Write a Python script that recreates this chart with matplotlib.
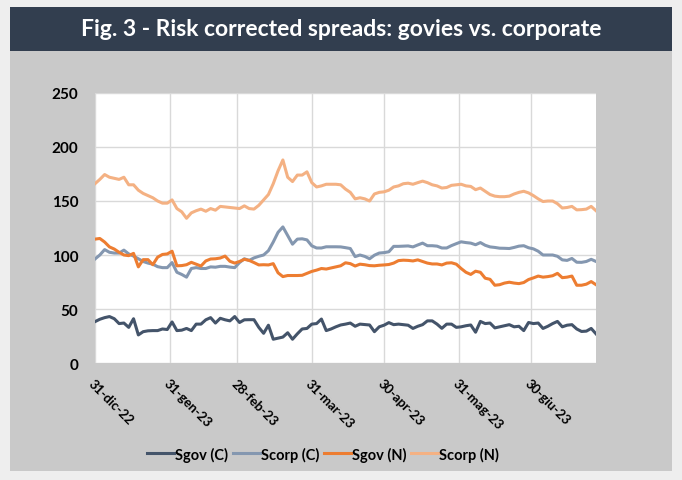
import pandas as pd
import matplotlib
matplotlib.use('Agg')
import matplotlib.pyplot as plt
from matplotlib.patches import Rectangle

# Dates (every 2 days)
dates = pd.date_range('2022-12-31', periods=105, freq='2D')

sgov_c = [38.3, 40.5, 42, 43, 41, 36.5, 37, 33, 41, 26, 29, 29.8, 30, 30, 31.5, 31,
          38, 30, 30.4, 32, 30, 36, 36, 40, 42, 37, 41.4, 40, 39, 43, 37.5, 40,
          40.1, 40.1, 33, 27.5, 35, 22, 23, 24, 28, 22, 27, 31.5, 32, 36, 36.5, 40.7,
          30, 31.5, 33.5, 35.2, 36, 37, 34, 36, 35.6, 35.2, 29, 33.5, 35, 37.4, 35.5, 36,
          35.5, 35, 32, 34, 35.5, 39, 39, 36, 32.1, 36, 36, 33, 33.5, 34.5, 35.2, 28.5,
          38.5, 36.5, 37, 32.5, 33.5, 34.5, 35.5, 33.5, 34, 30, 37.5, 36.5, 37, 32, 34, 36.5,
          38.5, 33.5, 35, 35.5, 31.5, 29.2, 29.5, 32, 27]

scorp_c = [96.3, 100, 105, 102.5, 101.8, 101.8, 104.5, 101, 99, 96.5, 94, 92.5, 91.5, 89.2, 88.3, 88.3,
           93, 84, 82, 79.5, 87.5, 88.3, 87.5, 87.5, 89, 88.7, 89.5, 89.5, 88.8, 88.3, 93, 96.5,
           95, 97.3, 98.8, 100, 104, 112, 121, 126, 118, 110, 114.7, 115, 114, 108.5, 106.5, 106.5,
           107.6, 107.6, 107.6, 107.5, 106.8, 106, 98.5, 100, 98.7, 96.5, 99.8, 101.8, 102.2, 103, 108, 108,
           108.2, 108.4, 107.5, 109.3, 111, 108.6, 108.6, 108.2, 106.5, 106.5, 108.7, 110.5, 112.2, 111.5, 111, 109.5,
           111.5, 109, 107.5, 107, 106.3, 106.2, 106, 107, 108.2, 108.6, 106.7, 105.7, 103.5, 100, 100, 100,
           98.8, 95.5, 95, 96.8, 93.3, 93.2, 94, 96, 94]

sgov_n = [114.7, 115.3, 112, 107.5, 105.5, 102.5, 100, 99.4, 101.5, 89, 95.7, 95.7, 91, 98, 100.5, 101,
          103.5, 90, 90.2, 91, 93.2, 91.5, 89.8, 94.5, 96.3, 96.5, 97.2, 99, 94.2, 92.5, 94, 96,
          95, 93, 90.8, 91, 90.8, 92, 83.5, 80, 81, 81, 81, 81.2, 83, 84.8, 86, 87.5,
          87, 88, 89, 90, 92.8, 92, 89.8, 91.5, 91, 90.2, 90, 90.5, 90.8, 91.2, 92.5, 94.8,
          95.2, 95, 94.5, 95.5, 94, 92.5, 91.7, 91.7, 90.8, 92.5, 92.8, 91.5, 87.5, 84, 82, 85,
          84, 78.5, 77.5, 72, 72.5, 74, 74.8, 74, 73.5, 74.5, 77.3, 78.8, 80.5, 79.5, 80, 80.8,
          83, 79, 79.5, 80.5, 72, 72, 73, 75.4, 72.5]

scorp_n = [166, 170, 174.5, 172, 171, 170, 172, 165, 165, 160, 157, 155, 153, 150, 148, 148,
           151, 143, 140, 134, 139, 141, 142.5, 140.5, 143, 141.5, 145, 144.5, 144, 143.5, 143, 145.5,
           143, 142.5, 146, 151, 156, 166, 178, 188, 172, 168, 174, 174, 177, 167, 163, 164,
           165.5, 165.5, 165.5, 165, 161, 158, 152, 153, 152, 150, 156.5, 158, 158.5, 160, 163, 164,
           166, 166.5, 165.5, 167, 168.4, 167, 165, 164, 162, 162.5, 164.5, 165, 165.5, 164, 163.5, 160.5,
           162, 159, 156, 154.5, 154, 154, 154.5, 156.5, 158, 159, 157.5, 155, 152, 149.5, 150, 150,
           147.5, 143.5, 144, 145, 141.8, 142, 142.5, 145, 141]

series_names = ['Sgov (C)', 'Scorp (C)', 'Sgov (N)', 'Scorp (N)']
series_colors = ['#44546a', '#8497b0', '#ed7d31', '#f4b183']

tick_dates = pd.to_datetime(['2022-12-31', '2023-01-31', '2023-02-28', '2023-03-31',
                             '2023-04-30', '2023-05-31', '2023-06-30'])
tick_labels = ['31-dic-22', '31-gen-23', '28-feb-23', '31-mar-23', '30-apr-23', '31-mag-23', '30-giu-23']

plt.rcParams['font.family'] = ['Lato', 'DejaVu Sans']

fig = plt.figure(figsize=(6.82, 4.81), dpi=100)
fig.patch.set_facecolor('#eeeeee')

# gray panel and title band
fig.add_artist(Rectangle((10 / 682, 1 - 472 / 481), 662 / 682, 420 / 481,
                         transform=fig.transFigure, facecolor='#c9c9c9', edgecolor='none', zorder=0))
fig.add_artist(Rectangle((10 / 682, 1 - 52 / 481), 662 / 682, 44 / 481,
                         transform=fig.transFigure, facecolor='#323e4f', edgecolor='none', zorder=0))
fig.text(0.5, 1 - 30 / 481, 'Fig. 3 - Risk corrected spreads: govies vs. corporate',
         ha='center', va='center', color='white', fontsize=16.5, fontweight='bold')

ax = fig.add_axes([95 / 682, 1 - 364 / 481, 501 / 682, 270 / 481])
ax.set_facecolor('white')

for vals, name, col in zip([sgov_c, scorp_c, sgov_n, scorp_n], series_names, series_colors):
    ax.plot(dates, vals, color=col, linewidth=2.2, label=name)

ax.set_ylim(0, 250)
ax.set_yticks([0, 50, 100, 150, 200, 250])
ax.set_xlim(pd.Timestamp('2022-12-31'), pd.Timestamp('2023-07-27'))
ax.set_xticks(tick_dates)
ax.set_xticklabels(tick_labels, rotation=-45, ha='left', va='top', rotation_mode='anchor')
ax.tick_params(length=0)
ax.tick_params(axis='y', pad=12, labelsize=11)
ax.tick_params(axis='x', pad=10, labelsize=9.5)
for lab in ax.get_xticklabels() + ax.get_yticklabels():
    lab.set_fontweight('bold')

ax.grid(True, color='#d9d9d9', linewidth=1)
ax.set_axisbelow(True)
for s in ax.spines.values():
    s.set_visible(False)

fig.legend(loc='center', bbox_to_anchor=(323 / 682, 1 - 455 / 481), ncol=4, frameon=False,
           prop={'weight': 'bold', 'size': 10.5}, handlelength=1.9, handletextpad=0.05,
           columnspacing=0.3)

fig.savefig('out.png', dpi=100, facecolor=fig.get_facecolor())
